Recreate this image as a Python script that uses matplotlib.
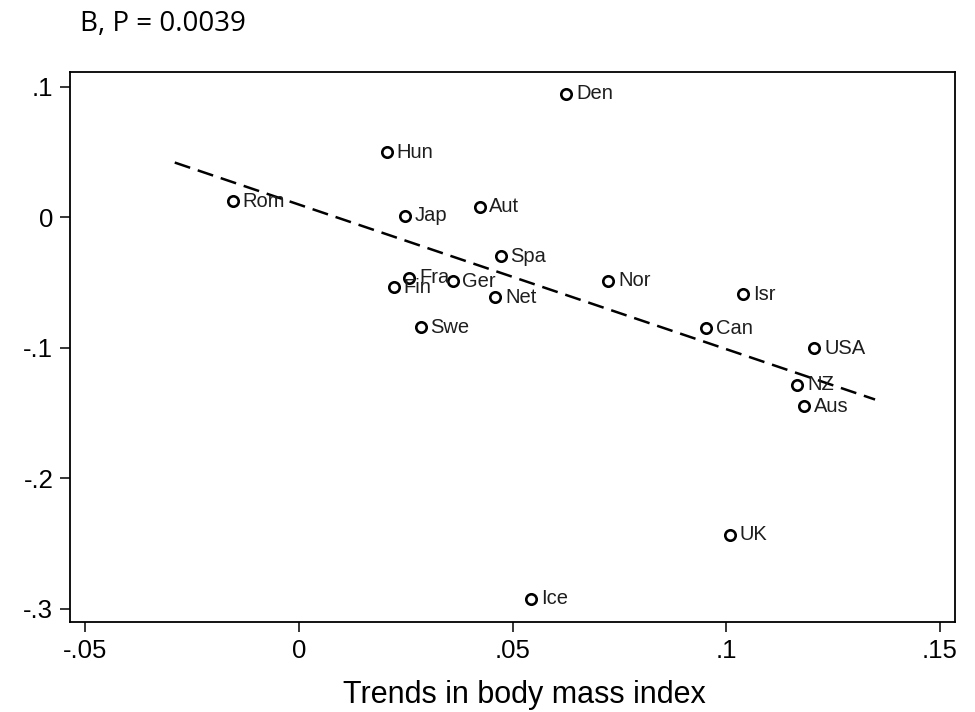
import numpy as np
import matplotlib
matplotlib.use('Agg')
import matplotlib.pyplot as plt

plt.rcParams['font.family'] = ['Liberation Sans', 'DejaVu Sans']

# country codes and values
countries = ['Den', 'Hun', 'Rom', 'Jap', 'Aut', 'Spa', 'Fra', 'Ger', 'Fin', 'Net',
             'Nor', 'Isr', 'Swe', 'Can', 'USA', 'NZ', 'Aus', 'UK', 'Ice']
bmi_trend = [0.0626, 0.0206, -0.0154, 0.0248, 0.0423, 0.0472, 0.0259, 0.0360, 0.0222, 0.0460,
             0.0724, 0.1040, 0.0285, 0.0953, 0.1206, 0.1166, 0.1182, 0.1009, 0.0544]
outcome = [0.095, 0.0498, 0.0123, 0.0015, 0.0084, -0.0299, -0.0460, -0.0490, -0.0536, -0.0613,
           -0.0483, -0.0590, -0.0843, -0.0850, -0.1004, -0.1280, -0.1448, -0.2430, -0.2920]

# fitted line ends
fit_x = [-0.029, 0.1348]
fit_y = [0.0421, -0.1395]

xticks = [-0.05, 0, 0.05, 0.1, 0.15]
xticklabels = ['-.05', '0', '.05', '.1', '.15']
yticks = [0.1, 0, -0.1, -0.2, -0.3]
yticklabels = ['.1', '0', '-.1', '-.2', '-.3']

fig = plt.figure(figsize=(9.75, 7.12), dpi=100)
ax = fig.add_axes([0.0718, 0.1264, 0.9077, 0.7725])

ax.plot(fit_x, fit_y, color='black', lw=1.8, dashes=(6.5, 3.2))
ax.plot(bmi_trend, outcome, 'o', ms=7.5, mfc='white', mec='black', mew=1.9, zorder=3)
for c, x, y in zip(countries, bmi_trend, outcome):
    ax.annotate(c, (x, y), xytext=(7, 0), textcoords='offset points',
                va='center', ha='left', fontsize=14.5, color='#1e1e1e')

ax.set_xlim(-0.0535, 0.1535)
ax.set_ylim(-0.31, 0.1115)
ax.set_xticks(xticks)
ax.set_xticklabels(xticklabels)
ax.set_yticks(yticks)
ax.set_yticklabels(yticklabels)
ax.tick_params(direction='out', length=7, width=1.1, labelsize=18.5, pad=5)
for s in ax.spines.values():
    s.set_linewidth(1.3)

ax.set_xlabel('Trends in body mass index', fontsize=22)
ax.xaxis.set_label_coords(0.5135, -0.105)
fig.text(0.082, 0.956, 'B, P = 0.0039', fontsize=20, family=['Open Sans', 'DejaVu Sans'],
         va='baseline')

fig.savefig('out.png', dpi=100)
